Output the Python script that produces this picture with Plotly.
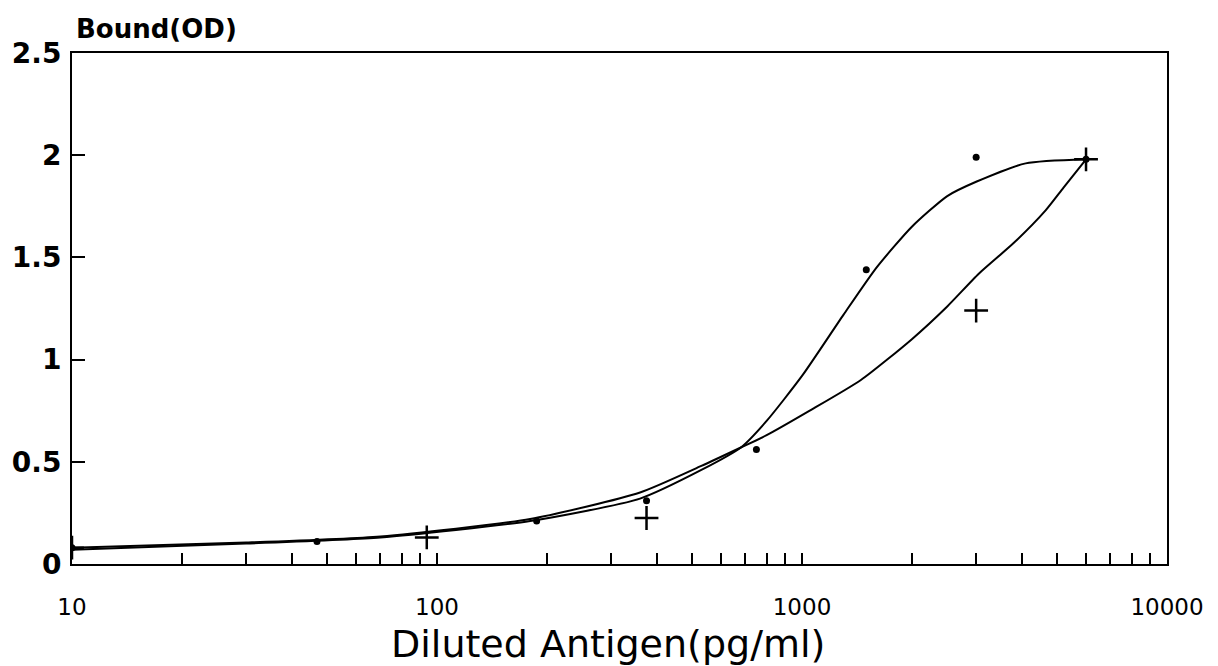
import plotly.graph_objects as go

# Curve A (steeper fit, through the dots)
curve_a_x = [10, 30, 70, 180, 360, 530, 680, 800, 1000, 1300, 1600, 2000, 2500, 3000, 4100, 6000]
curve_a_y = [0.07, 0.10, 0.13, 0.21, 0.32, 0.46, 0.57, 0.70, 0.92, 1.22, 1.45, 1.65, 1.80, 1.87, 1.96, 1.98]

# Curve B (flatter fit, through the crosses)
curve_b_x = [10, 30, 70, 180, 360, 530, 680, 800, 1050, 1450, 2000, 2500, 3050, 3800, 4650, 5200, 6000]
curve_b_y = [0.08, 0.105, 0.135, 0.22, 0.35, 0.48, 0.57, 0.63, 0.75, 0.90, 1.10, 1.26, 1.42, 1.57, 1.73, 1.84, 1.98]

# Measured points
dots_x = [10, 46.9, 187.5, 375, 750, 1500, 3000, 6000]
dots_y = [0.08, 0.11, 0.21, 0.31, 0.56, 1.44, 1.99, 1.98]
plus_x = [10, 93.75, 375, 3000, 6000]
plus_y = [0.08, 0.13, 0.225, 1.24, 1.98]

x_tickvals = [10, 100, 1000, 10000]
x_ticktext = ["10", "100", "1000", "10000"]
y_tickvals = [0, 0.5, 1, 1.5, 2, 2.5]
y_ticktext = ["0", "0.5", "1", "1.5", "2", "2.5"]

FONT = "DejaVu Sans"
PLOT_L, PLOT_W = 70, 1097

fig = go.Figure()
for cx, cy in [(curve_a_x, curve_a_y), (curve_b_x, curve_b_y)]:
    fig.add_trace(go.Scatter(x=cx, y=cy, mode="lines",
                             line=dict(color="black", width=2, shape="spline", smoothing=0.6),
                             showlegend=False, hoverinfo="skip"))
fig.add_trace(go.Scatter(x=dots_x, y=dots_y, mode="markers",
                         marker=dict(symbol="circle", size=7, color="black"),
                         showlegend=False))
fig.add_trace(go.Scatter(x=plus_x, y=plus_y, mode="markers",
                         marker=dict(symbol="cross-thin", size=17,
                                     line=dict(color="black", width=2.5)),
                         showlegend=False))

fig.update_layout(
    width=1218, height=666,
    margin=dict(l=70, r=51, t=53, b=102),
    paper_bgcolor="white", plot_bgcolor="white",
    showlegend=False,
)
fig.update_xaxes(
    type="log", range=[1, 4],
    tickvals=x_tickvals, ticktext=x_ticktext,
    ticks="inside", ticklen=11, tickwidth=1.5, tickcolor="black",
    minor=dict(ticks="inside", ticklen=11, tickwidth=1.5, tickcolor="black", dtick="D1", showgrid=False),
    showline=True, linecolor="black", linewidth=2, mirror=True,
    showgrid=False, zeroline=False,
    tickfont=dict(family=FONT, size=23, color="black"),
    ticklabelstandoff=21,
)
fig.update_yaxes(
    range=[0, 2.5],
    tickvals=y_tickvals, ticktext=y_ticktext,
    ticks="inside", ticklen=13, tickwidth=1.5, tickcolor="black",
    showline=True, linecolor="black", linewidth=2, mirror=True,
    showgrid=False, zeroline=False,
    tickfont=dict(family=FONT, size=28, color="black", weight="bold"),
    ticklabelstandoff=3,
)
fig.add_annotation(text="Bound(OD)", xref="paper", yref="paper",
                   x=(155 - PLOT_L) / PLOT_W, y=1, xanchor="center", yanchor="bottom",
                   showarrow=False, yshift=7,
                   font=dict(family=FONT, size=26, color="black", weight="bold"))
fig.add_annotation(text="Diluted Antigen(pg/ml)", xref="paper", yref="paper",
                   x=(607 - PLOT_L) / PLOT_W, y=0, xanchor="center", yanchor="top",
                   showarrow=False, yshift=-56,
                   font=dict(family=FONT, size=38, color="black"))

fig.write_html("out.html")
